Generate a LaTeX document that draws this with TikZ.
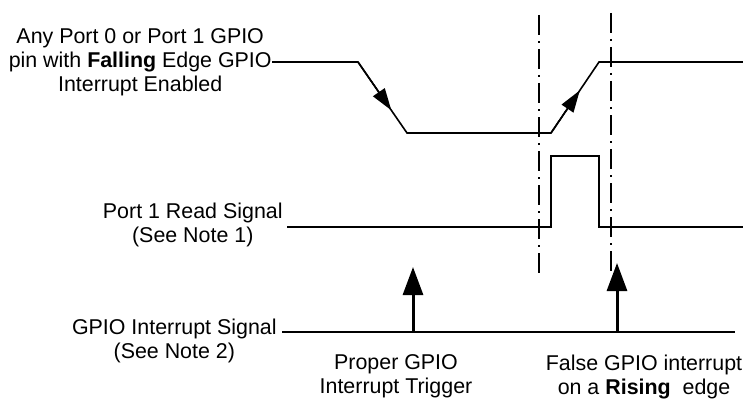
\documentclass[tikz,border=0pt]{standalone}
\usepackage{fontspec}
\setmainfont{Liberation Sans}
\usetikzlibrary{arrows.meta,calc}

\begin{document}
\begin{tikzpicture}[x=0.5pt,y=-0.5pt]

      \useasboundingbox (0,0) rectangle (743,401);

      \tikzset{
        signal/.style={line width=0.8pt},
        marker/.style={line width=0.8pt,-{Triangle[length=11pt,width=7pt]}},
        trigger/.style={line width=1.5pt,-{Triangle[length=14pt,width=10pt]}},
        guide/.style={line width=0.8pt,dash pattern=on 10pt off 3pt on 1pt off 3pt}
      }

      \begin{scope}[every node/.style={font=\fontsize{10.7}{12}\selectfont, align=center, inner sep=0pt}]
        \node[anchor=east] (pin)  at (272,62)  {Any Port 0 or Port 1 GPIO\\pin with \textbf{Falling} Edge GPIO\\Interrupt Enabled};
        \node[anchor=east] (read) at (283,225) {Port 1 Read Signal\\(See Note 1)};
        \node[anchor=east] (intr) at (277,341) {GPIO Interrupt Signal\\(See Note 2)};
        \node (proper) at (396,376) {Proper GPIO\\Interrupt Trigger};
        \node (false)  at (644,377) {False GPIO interrupt\\on a \textbf{Rising}\ \ edge};
      \end{scope}

      \begin{scope}
        \coordinate (w1) at (358,62);
        \coordinate (w2) at (407,133);
        \coordinate (w3) at (551,133);
        \coordinate (w4) at (599,62);
        \coordinate (w5) at (743,62);
        \coordinate (r0) at (287,227);
        \coordinate (r1) at (551,227);
        \coordinate (r2) at (551,156);
        \coordinate (r3) at (599,156);
        \coordinate (r4) at (599,227);
        \coordinate (r5) at (743,227);
        \coordinate (i0) at (282,332);
        \coordinate (i1) at (735,332);
        \coordinate (t1) at (413,332);
        \coordinate (t1a) at (413,267);
        \coordinate (t2) at (617,332);
        \coordinate (t2a) at (617,263);
        \coordinate (g1) at (539,15);
        \coordinate (g1a) at (539,277);
        \coordinate (g2) at (611,13);
        \coordinate (g2a) at (611,275);
      \end{scope}

      % waveforms
      \draw[signal] (pin.east) -- (w1) -- (w2) -- (w3) -- (w4) -- (w5);
      \draw[marker] (w1) -- ($(w1)!0.68!(w2)$);
      \draw[marker] (w3) -- ($(w3)!0.6!(w4)$);
      \draw[signal] (r0) -- (r1) -- (r2) -- (r3) -- (r4) -- (r5);
      \draw[signal] (i0) -- (i1);

      % edges in question
      \draw[guide] (g1) -- (g1a);
      \draw[guide] (g2) -- (g2a);

      % interrupt triggers
      \draw[trigger] (t1) -- (t1a);
      \draw[trigger] (t2) -- (t2a);

    \end{tikzpicture}
\end{document}
